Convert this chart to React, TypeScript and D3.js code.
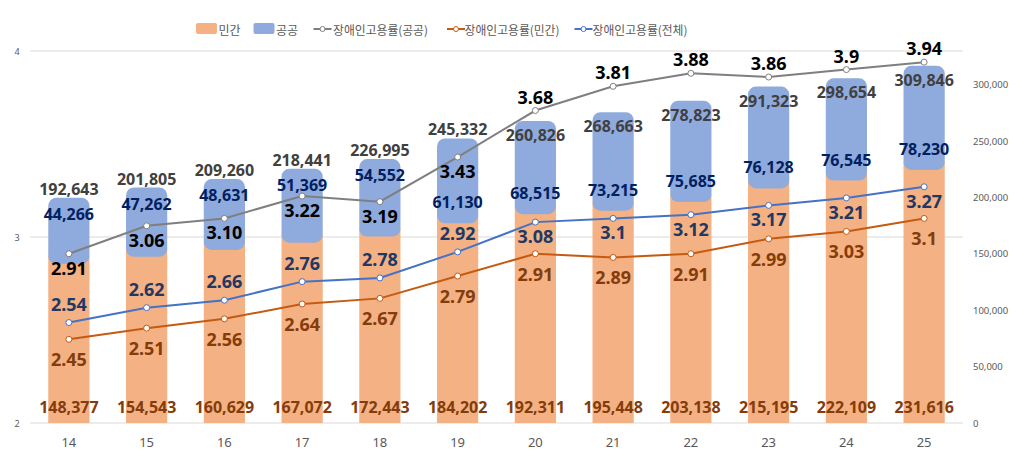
import React from "react";
import * as d3 from "d3";

const years = ["14", "15", "16", "17", "18", "19", "20", "21", "22", "23", "24", "25"];
const privateCount = [148377, 154543, 160629, 167072, 172443, 184202, 192311, 195448, 203138, 215195, 222109, 231616];
const publicCount = [44266, 47262, 48631, 51369, 54552, 61130, 68515, 73215, 75685, 76128, 76545, 78230];
const totalCount = [192643, 201805, 209260, 218441, 226995, 245332, 260826, 268663, 278823, 291323, 298654, 309846];
const ratePublic = [2.91, 3.06, 3.1, 3.22, 3.19, 3.43, 3.68, 3.81, 3.88, 3.86, 3.9, 3.94];
const ratePublicLabels = ["2.91", "3.06", "3.10", "3.22", "3.19", "3.43", "3.68", "3.81", "3.88", "3.86", "3.9", "3.94"];
const ratePrivate = [2.45, 2.51, 2.56, 2.64, 2.67, 2.79, 2.91, 2.89, 2.91, 2.99, 3.03, 3.1];
const ratePrivateLabels = ["2.45", "2.51", "2.56", "2.64", "2.67", "2.79", "2.91", "2.89", "2.91", "2.99", "3.03", "3.1"];
const rateTotal = [2.54, 2.62, 2.66, 2.76, 2.78, 2.92, 3.08, 3.1, 3.12, 3.17, 3.21, 3.27];
const rateTotalLabels = ["2.54", "2.62", "2.66", "2.76", "2.78", "2.92", "3.08", "3.1", "3.12", "3.17", "3.21", "3.27"];
const leftTicks = [2, 3, 4];
const rightTicks = [0, 50000, 100000, 150000, 200000, 250000, 300000];
const legendLabels = ["민간", "공공", "장애인고용률(공공)", "장애인고용률(민간)", "장애인고용률(전체)"];

const C = {
  orange: "#F4B183",
  blue: "#8FAADC",
  lineGray: "#7F7F7F",
  lineOrange: "#C55A11",
  lineBlue: "#4472C4",
  grid: "#D9D9D9",
  axisText: "#595959",
};

const NUM_FONT = "'Noto Sans', 'Noto Sans CJK KR', sans-serif";
const KR_FONT = "'Noto Sans CJK KR', 'Noto Sans', sans-serif";

export default function App() {
  const W = 1027, H = 470;
  const left = 30, right = 963, top = 51, bottom = 423;
  const x = d3.scaleBand<string>().domain(years).range([left, right]).paddingInner(0.47).paddingOuter(0.235);
  const yL = d3.scaleLinear().domain([2, 4]).range([bottom, top]);
  const yR = d3.scaleLinear().domain([0, 330000]).range([bottom, top]);
  const bw = x.bandwidth();
  const cx = (i: number) => (x(years[i]) as number) + bw / 2;
  const ext = 8;
  const fmt = d3.format(",");

  const line = d3.line<number>().x((_, i) => cx(i)).y((d) => yL(d));

  const series = [
    { data: ratePublic, color: C.lineGray },
    { data: ratePrivate, color: C.lineOrange },
    { data: rateTotal, color: C.lineBlue },
  ];

  const high = years.map((_, i) => yL(ratePublic[i]) < yR(totalCount[i]));
  const lowBarLabel = years.map((_, i) => yL(ratePublic[i]) - yR(totalCount[i]) < 15);

  const legendY = 29;
  return (
    <svg width={W} height={H} style={{ position: "absolute", left: 0, top: 0, background: "#fff" }}>
      {leftTicks.map((t) => (
        <line key={t} x1={left} x2={right} y1={yL(t)} y2={yL(t)} stroke={C.grid} strokeWidth={1} />
      ))}
      {leftTicks.map((t) => (
        <text key={"l" + t} x={17} y={yL(t)} fontSize={9} fill={C.axisText} textAnchor="middle" dominantBaseline="central" fontFamily={NUM_FONT}>
          {t}
        </text>
      ))}
      {rightTicks.map((t) => (
        <text key={"r" + t} x={973} y={yR(t)} fontSize={9.5} fill={C.axisText} textAnchor="start" dominantBaseline="central" fontFamily={NUM_FONT}>
          {fmt(t)}
        </text>
      ))}
      {years.map((yr, i) => (
        <text key={"x" + yr} x={cx(i)} y={442} fontSize={13} fill={C.axisText} textAnchor="middle" dominantBaseline="central" fontFamily={NUM_FONT}>
          {yr}
        </text>
      ))}
      {years.map((yr, i) => (
        <g key={"b" + yr}>
          <rect x={x(yr)} y={yR(privateCount[i])} width={bw} height={bottom - yR(privateCount[i])} fill={C.orange} />
          <rect
            x={x(yr)}
            y={yR(totalCount[i]) - ext}
            width={bw}
            height={yR(privateCount[i]) - yR(totalCount[i]) + 2 * ext}
            rx={8}
            ry={8}
            fill={C.blue}
          />
        </g>
      ))}
      {series.map((s, k) => (
        <g key={"s" + k}>
          <path d={line(s.data) || ""} fill="none" stroke={s.color} strokeWidth={2} />
          {s.data.map((d, i) => (
            <circle key={i} cx={cx(i)} cy={yL(d)} r={3} fill="#fff" stroke={s.color} strokeWidth={1} />
          ))}
        </g>
      ))}
      <g fontFamily={NUM_FONT} fontWeight="bold" textAnchor="middle" dominantBaseline="central">
        {years.map((yr, i) => {
          const ty = yR(totalCount[i]);
          const py = yR(privateCount[i]);
          return (
            <g key={"lab" + yr}>
              <text x={cx(i)} y={high[i] ? ty + 6 : ty - 17} fontSize={16} fill="#404040">{fmt(totalCount[i])}</text>
              <text x={cx(i)} y={lowBarLabel[i] ? py - 13 : ty + 8} fontSize={16} fill="#002060">{fmt(publicCount[i])}</text>
              <text x={cx(i)} y={407} fontSize={16} fill="#843C0C">{fmt(privateCount[i])}</text>
              <text x={cx(i)} y={high[i] ? yL(ratePublic[i]) - 14 : yL(ratePublic[i]) + 14} fontSize={18} fill="#000">{ratePublicLabels[i]}</text>
              <text x={cx(i)} y={high[i] ? yL(rateTotal[i]) + 14 : yL(rateTotal[i]) - 19} fontSize={18} fill="#1F3864">{rateTotalLabels[i]}</text>
              <text x={cx(i)} y={yL(ratePrivate[i]) + 20} fontSize={18} fill="#843C0C">{ratePrivateLabels[i]}</text>
            </g>
          );
        })}
      </g>
      <g fontFamily={KR_FONT} fontSize={12} fill={C.axisText} dominantBaseline="central">
        <rect x={196} y={legendY - 6} width={21} height={11} rx={2} fill={C.orange} />
        <text x={218.5} y={legendY}>{legendLabels[0]}</text>
        <rect x={253.5} y={legendY - 6} width={21} height={11} rx={2} fill={C.blue} />
        <text x={276} y={legendY}>{legendLabels[1]}</text>
        {[
          { x0: 313.5, tx: 333, color: C.lineGray, label: legendLabels[2] },
          { x0: 447, tx: 464.5, color: C.lineOrange, label: legendLabels[3] },
          { x0: 574.5, tx: 592.5, color: C.lineBlue, label: legendLabels[4] },
        ].map((l) => (
          <g key={l.label}>
            <line x1={l.x0} x2={l.x0 + 18} y1={legendY} y2={legendY} stroke={l.color} strokeWidth={2} />
            <circle cx={l.x0 + 9} cy={legendY} r={2.5} fill="#fff" stroke={l.color} strokeWidth={1} />
            <text x={l.tx} y={legendY} textLength={95} lengthAdjust="spacingAndGlyphs">{l.label}</text>
          </g>
        ))}
      </g>
    </svg>
  );
}
